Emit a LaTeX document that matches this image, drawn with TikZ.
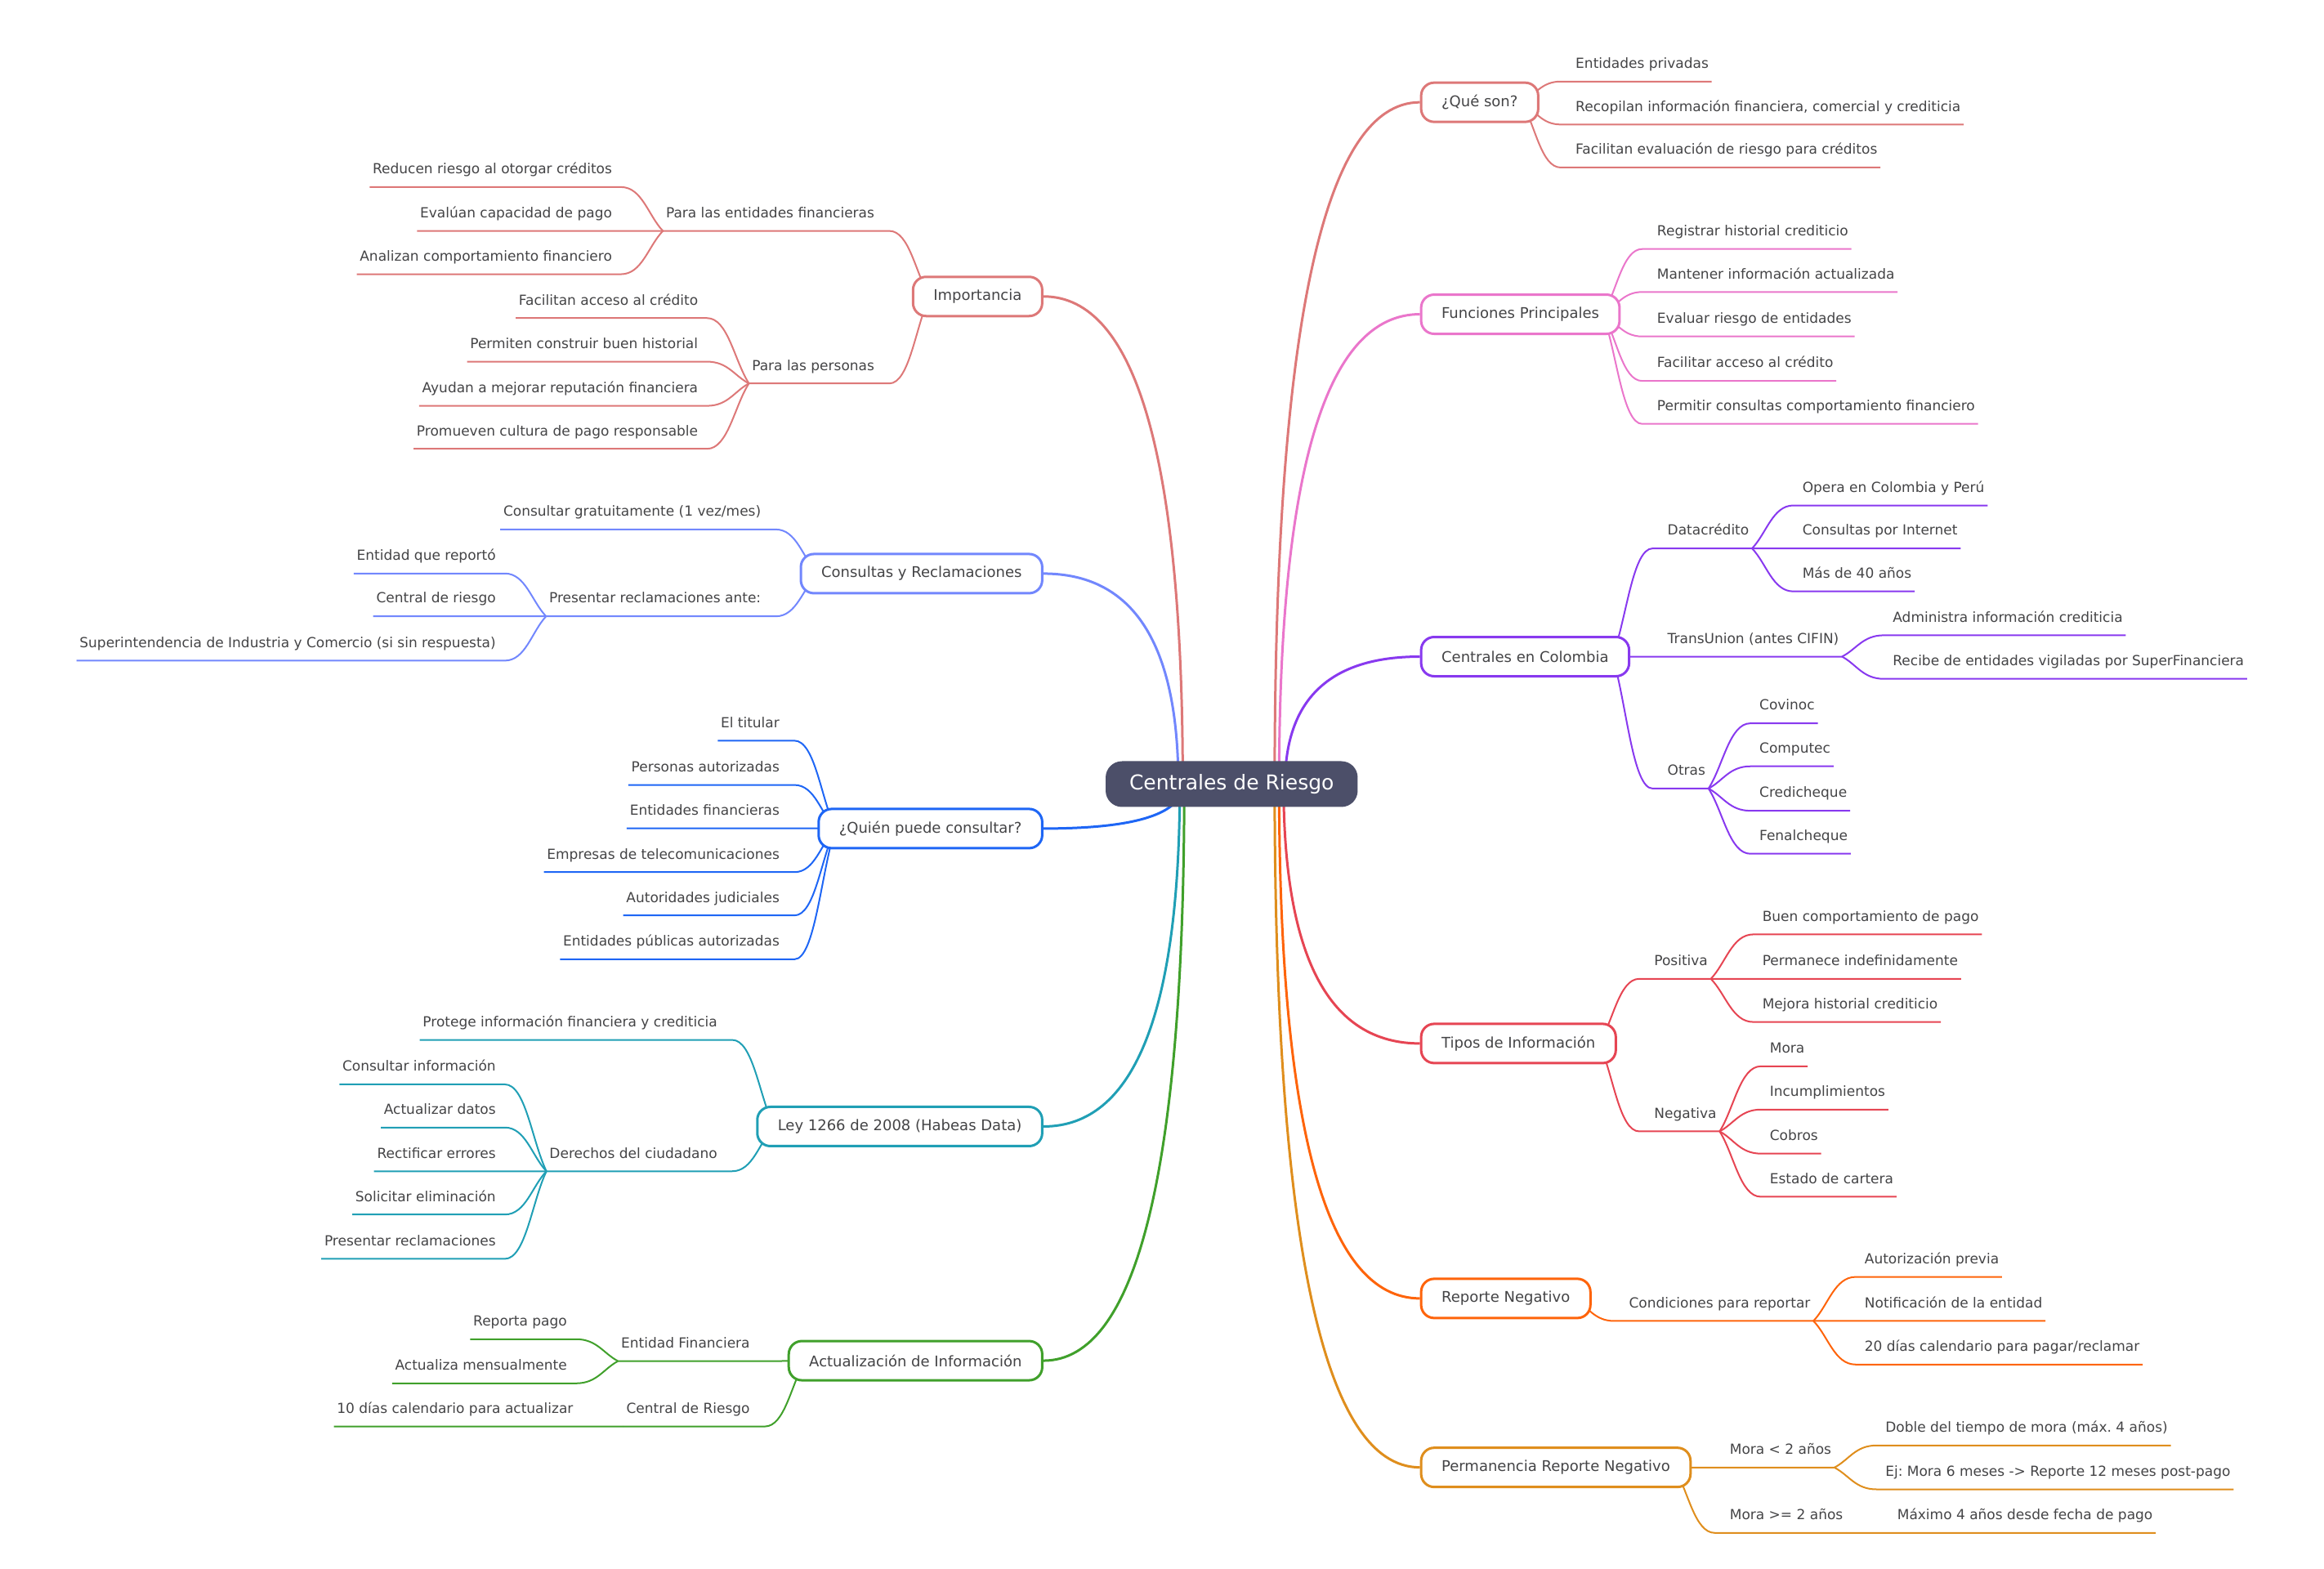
\documentclass[tikz,border=0pt]{standalone}
\usepackage{fontspec}
\setmainfont{DejaVu Sans}
\usepackage{tikz}
\usetikzlibrary{calc}
\pgfdeclarelayer{back}
\pgfsetlayers{back,main}
\definecolor{rootcol}{RGB}{76,79,105}
\definecolor{textcol}{RGB}{68,68,70}
\definecolor{cflamingo}{RGB}{221,120,120}
\definecolor{cpink}{RGB}{234,118,203}
\definecolor{cmauve}{RGB}{136,57,239}
\definecolor{cmaroon}{RGB}{230,69,83}
\definecolor{cpeach}{RGB}{254,100,11}
\definecolor{cyellow}{RGB}{223,142,29}
\definecolor{cgreen}{RGB}{64,160,43}
\definecolor{csapphire}{RGB}{32,159,181}
\definecolor{cblue}{RGB}{30,102,245}
\definecolor{clavender}{RGB}{114,135,253}
\tikzset{
  hub/.style={fill=rootcol, text=white, rounded corners=20pt, minimum height=56pt, inner xsep=29pt, font=\fontsize{25}{30}\selectfont},
  topic/.style={draw=#1, line width=3pt, fill=white, rounded corners=16pt, minimum height=48pt, inner xsep=25pt, text=textcol, font=\fontsize{18}{22}\selectfont},
  leaf/.style={text=textcol, font=\fontsize{17}{20}\selectfont, inner xsep=3.6pt, inner ysep=16pt, text height=12pt, text depth=0pt},
  stem/.style={draw=#1, line width=3pt},
  link/.style={draw=#1, line width=2pt},
  trunk/.style={to path={.. controls ($(\tikztostart)!0.667!(\tikztostart |- \tikztotarget)$) and ($(\tikztotarget)!0.667!(\tikztostart |- \tikztotarget)$) .. (\tikztotarget)}},
  twig/.style={to path={.. controls ($(\tikztostart)!0.35!(\tikztotarget)$) and ($(\tikztotarget)!0.5!(\tikztotarget -| \tikztostart)$) .. (\tikztotarget)}}
}
\begin{document}
\frenchspacing
\begin{tikzpicture}[x=1.8138pt, y=-1.8138pt]
  \useasboundingbox (0,0) rectangle (1568,1058.5);
  \node[hub] (root) at (831,529) {Centrales de Riesgo};

  % right side
  \node[topic=cflamingo, anchor=west] (qs) at (958,69) {¿Qué son?};
  \node[topic=cpink, anchor=west] (fp) at (958,212) {Funciones Principales};
  \node[topic=cmauve, anchor=west] (cc) at (958,443) {Centrales en Colombia};
  \node[topic=cmaroon, anchor=west] (ti) at (958,704) {Tipos de Información};
  \node[topic=cpeach, anchor=west] (rn) at (958,876) {Reporte Negativo};
  \node[topic=cyellow, anchor=west] (pr) at (958,990) {Permanencia Reporte Negativo};

  \foreach \y/\t [count=\i] in {55/Entidades privadas, 84/{Recopilan información financiera, comercial y crediticia}, 113/Facilitan evaluación de riesgo para créditos}
    \node[leaf, anchor=south west] (qs\i) at (1061,\y) {\t};
  \foreach \y/\t [count=\i] in {168/Registrar historial crediticio, 197/Mantener información actualizada, 227/Evaluar riesgo de entidades, 257/Facilitar acceso al crédito, 286/Permitir consultas comportamiento financiero}
    \node[leaf, anchor=south west] (fp\i) at (1116,\y) {\t};

  \foreach \m/\x/\y/\t in {dc/1123/370/Datacrédito, tu/1123/443/{TransUnion (antes CIFIN)}, ot/1123/532/Otras, po/1114/660.4/Positiva, ne/1114/763.3/Negativa, cp/1097/891.2/Condiciones para reportar, m1/1165/990.1/{Mora < 2 años}, m2/1165/1034.2/{Mora >= 2 años}}
    \node[leaf, anchor=south west] (\m) at (\x,\y) {\t};

  \foreach \y/\t [count=\i] in {341/Opera en Colombia y Perú, 370/Consultas por Internet, 399/Más de 40 años}
    \node[leaf, anchor=south west] (dc\i) at (1214,\y) {\t};
  \foreach \y/\t [count=\i] in {428.6/Administra información crediticia, 458/Recibe de entidades vigiladas por SuperFinanciera}
    \node[leaf, anchor=south west] (tu\i) at (1275,\y) {\t};
  \foreach \y/\t [count=\i] in {488/Covinoc, 517/Computec, 547/Credicheque, 576/Fenalcheque}
    \node[leaf, anchor=south west] (ot\i) at (1185,\y) {\t};
  \foreach \y/\t [count=\i] in {630.4/Buen comportamiento de pago, 660.4/Permanece indefinidamente, 689.5/Mejora historial crediticio}
    \node[leaf, anchor=south west] (po\i) at (1187,\y) {\t};
  \foreach \y/\t [count=\i] in {719.4/Mora, 748.6/Incumplimientos, 778.3/Cobros, 807.4/Estado de cartera}
    \node[leaf, anchor=south west] (ne\i) at (1192,\y) {\t};
  \foreach \y/\t [count=\i] in {861.5/Autorización previa, 891.2/Notificación de la entidad, 920.6/{20 días calendario para pagar/reclamar}}
    \node[leaf, anchor=south west] (cp\i) at (1256,\y) {\t};
  \foreach \y/\t [count=\i] in {975.2/{Doble del tiempo de mora (máx. 4 años)}, 1004.8/{Ej: Mora 6 meses -> Reporte 12 meses post-pago}}
    \node[leaf, anchor=south west] (m1\i) at (1270,\y) {\t};
  \node[leaf, anchor=south west] (m21) at (1278,1034.2) {Máximo 4 años desde fecha de pago};

  % left side
  \node[topic=cflamingo, anchor=east] (im) at (704,200) {Importancia};
  \node[topic=clavender, anchor=east] (cr) at (704,387) {Consultas y Reclamaciones};
  \node[topic=cblue, anchor=east] (qc) at (704,559) {¿Quién puede consultar?};
  \node[topic=csapphire, anchor=east] (ld) at (704,760) {Ley 1266 de 2008 (Habeas Data)};
  \node[topic=cgreen, anchor=east] (ai) at (704,918) {Actualización de Información};

  \foreach \m/\x/\y/\t in {pe/592/155.8/Para las entidades financieras, pp/592/258.7/Para las personas, cr1/515.5/357.2/{Consultar gratuitamente (1 vez/mes)}, pa/515.5/415.8/{Presentar reclamaciones ante:}, ld1/486/701.6/Protege información financiera y crediticia, de/486/790.2/Derechos del ciudadano, ef/508/918.3/Entidad Financiera, cd/508/962.4/Central de Riesgo}
    \node[leaf, anchor=south east] (\m) at (\x,\y) {\t};

  \foreach \y/\t [count=\i] in {126.2/Reducen riesgo al otorgar créditos, 155.8/Evalúan capacidad de pago, 185/Analizan comportamiento financiero}
    \node[leaf, anchor=south east] (pe\i) at (415,\y) {\t};
  \foreach \y/\t [count=\i] in {214.6/Facilitan acceso al crédito, 244/Permiten construir buen historial, 273.8/Ayudan a mejorar reputación financiera, 302.8/Promueven cultura de pago responsable}
    \node[leaf, anchor=south east] (pp\i) at (473,\y) {\t};
  \foreach \y/\t [count=\i] in {386.9/Entidad que reportó, 415.8/Central de riesgo, 445.7/{Superintendencia de Industria y Comercio (si sin respuesta)}}
    \node[leaf, anchor=south east] (pa\i) at (336.6,\y) {\t};
  \foreach \y/\t [count=\i] in {499.7/El titular, 529.6/Personas autorizadas, 558.8/Entidades financieras, 588.4/Empresas de telecomunicaciones, 617.6/Autoridades judiciales, 647.2/Entidades públicas autorizadas}
    \node[leaf, anchor=south east] (qc\i) at (528,\y) {\t};
  \foreach \y/\t [count=\i] in {731.6/Consultar información, 760.7/Actualizar datos, 790.2/Rectificar errores, 819.4/Solicitar eliminación, 849.3/Presentar reclamaciones}
    \node[leaf, anchor=south east] (de\i) at (336.6,\y) {\t};
  \foreach \y/\t [count=\i] in {903.5/Reporta pago, 933.3/Actualiza mensualmente}
    \node[leaf, anchor=south east] (ef\i) at (384.6,\y) {\t};
  \node[leaf, anchor=south east] (cd1) at (388.8,962.4) {10 días calendario para actualizar};

  % connectors below the boxes
  \begin{pgfonlayer}{back}
    \foreach \b/\d/\c in {qs/29/cflamingo, fp/32/cpink, cc/36/cmauve, ti/35/cmaroon, rn/32/cpeach, pr/29/cyellow}
      \draw[stem=\c] ($(root.center)+(\d,0)$) to[trunk] (\b.west);
    \foreach \b/\d/\c in {im/-33/cflamingo, cr/-36/clavender, qc/-33/cblue, ld/-35/csapphire, ai/-32/cgreen}
      \draw[stem=\c] ($(root.center)+(\d,0)$) to[trunk] (\b.east);

    \foreach \b/\n/\c in {qs/3/cflamingo, fp/5/cpink}
      \foreach \i in {1,...,\n}
        \draw[link=\c] ($(\b.east)+(-12,0)$) to[twig] ($(\b\i.south west)+(-8,0)$) -- (\b\i.south east);
    \foreach \m/\b/\n/\c in {dc/cc/3/cmauve, tu/cc/2/cmauve, ot/cc/4/cmauve, po/ti/3/cmaroon, ne/ti/4/cmaroon, cp/rn/3/cpeach, m1/pr/2/cyellow, m2/pr/1/cyellow} {
      \draw[link=\c] ($(\b.east)+(-12,0)$) to[twig] ($(\m.south west)+(-8,0)$) -- (\m.south east);
      \foreach \i in {1,...,\n}
        \draw[link=\c] (\m.south east) to[twig] ($(\m\i.south west)+(-4,0)$) -- (\m\i.south east);
    }

    \foreach \b/\n/\c in {qc/6/cblue, cr/1/clavender, ld/1/csapphire}
      \foreach \i in {1,...,\n}
        \draw[link=\c] ($(\b.west)+(12,0)$) to[twig] ($(\b\i.south east)+(8,0)$) -- (\b\i.south west);
    \foreach \m/\b/\n/\c in {pe/im/3/cflamingo, pp/im/4/cflamingo, pa/cr/3/clavender, de/ld/5/csapphire, ef/ai/2/cgreen, cd/ai/1/cgreen} {
      \draw[link=\c] ($(\b.west)+(12,0)$) to[twig] ($(\m.south east)+(8,0)$) -- (\m.south west);
      \foreach \i in {1,...,\n}
        \draw[link=\c] (\m.south west) to[twig] ($(\m\i.south east)+(4,0)$) -- (\m\i.south west);
    }
  \end{pgfonlayer}
\end{tikzpicture}
\end{document}
